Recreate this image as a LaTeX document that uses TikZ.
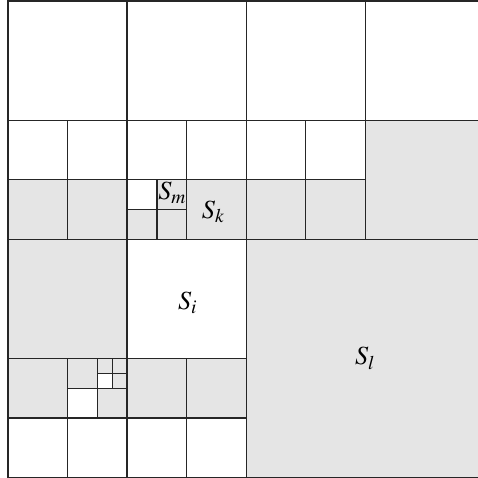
\documentclass[tikz,border=0pt]{standalone}
\usepackage{mathptmx}
\newcommand{\blk}[1]{$S_{#1}$}

\begin{document}
\begin{tikzpicture}[
    cell/.style={draw=black!85, line width=0.6pt},
    shaded/.style={cell, fill=black!10},
    lbl/.style={font=\fontsize{12.5}{13}\selectfont}
  ]
  \useasboundingbox (-0.134,-0.008) rectangle (7.891,8.017);

  % shaded blocks
  \foreach \xx/\yy/\ss in {6/4/2, 0/4/1, 1/4/1, 3/4/1, 4/4/1, 5/4/1,
      2.5/4.5/0.5, 2/4/0.5, 2.5/4/0.5, 0/2/2, 4/0/4,
      0/1/1, 2/1/1, 3/1/1, 1/1.5/0.5, 1.5/1/0.5,
      1.5/1.75/0.25, 1.75/1.75/0.25, 1.75/1.5/0.25} {
    \draw[shaded] (\xx,\yy) rectangle ++(\ss,\ss);
  }

  % empty blocks
  \foreach \xx/\yy/\ss in {0/6/2, 2/6/2, 4/6/2, 6/6/2,
      0/5/1, 1/5/1, 2/5/1, 3/5/1, 4/5/1, 5/5/1,
      2/4.5/0.5, 2/2/2, 1.5/1.5/0.25, 1/1/0.5,
      0/0/1, 1/0/1, 2/0/1, 3/0/1} {
    \draw[cell] (\xx,\yy) rectangle ++(\ss,\ss);
  }

  % labels
  \node[lbl] (sm) at (2.76, 4.78) {\blk{m}};
  \node[lbl] (sk) at (3.45, 4.46) {\blk{k}};
  \node[lbl] (si) at (3.02, 2.93) {\blk{i}};
  \node[lbl] (sl) at (6.0, 2.0) {\blk{l}};
\end{tikzpicture}
\end{document}
